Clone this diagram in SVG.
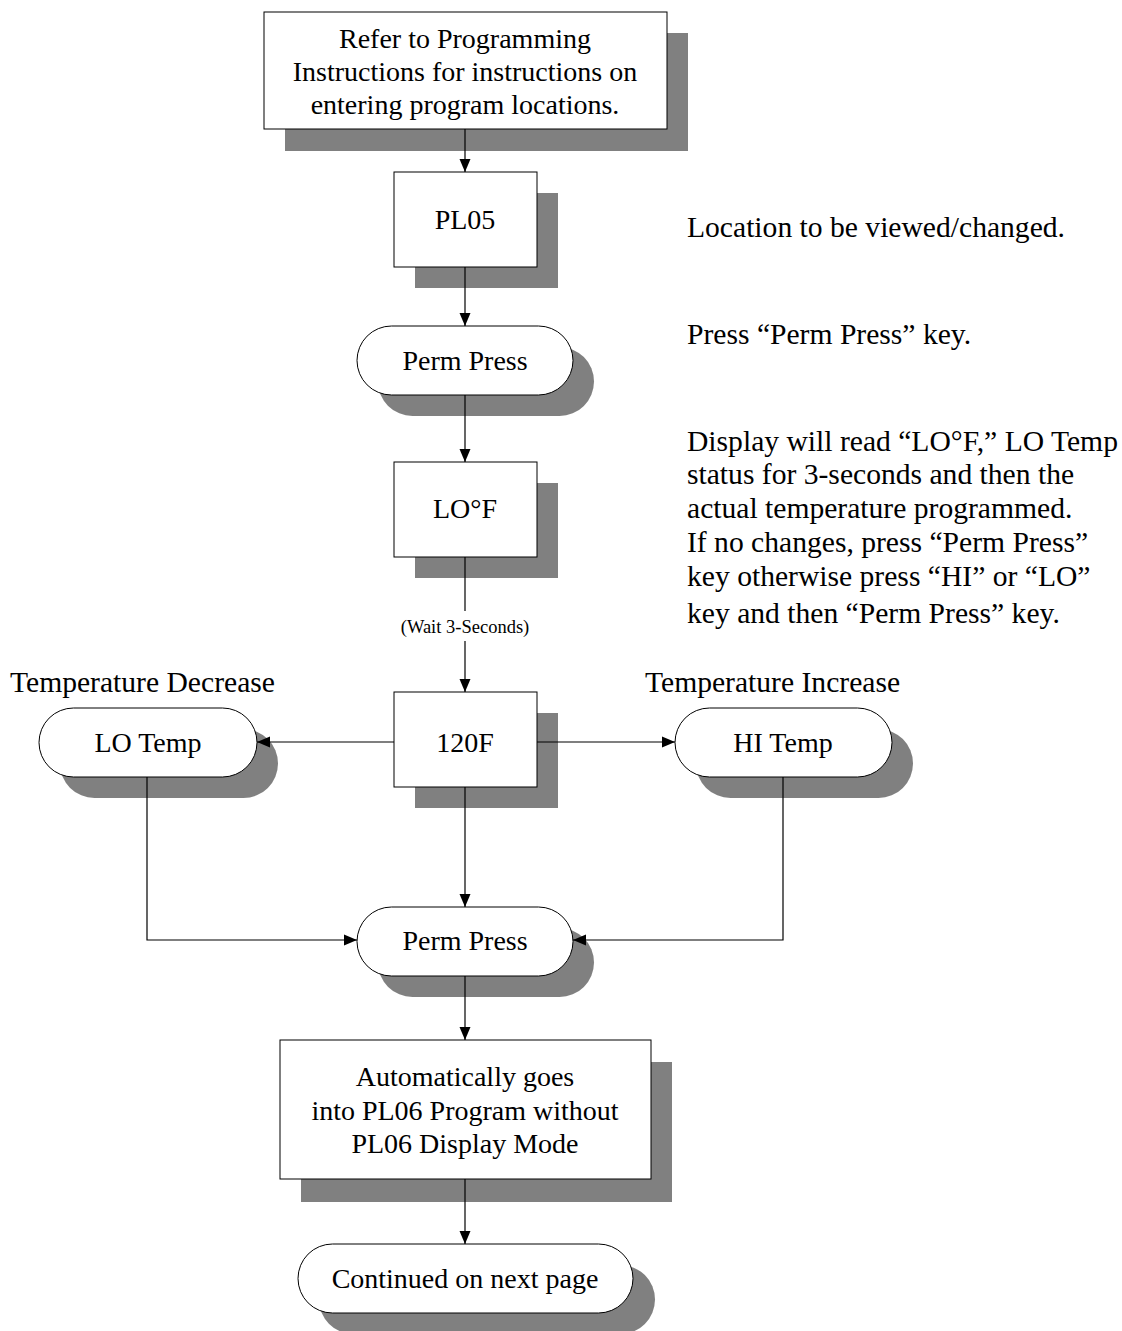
<svg xmlns="http://www.w3.org/2000/svg" width="1122" height="1331" viewBox="0 0 1122 1331">
<style>
text{font-family:"Liberation Serif","Times New Roman",serif;font-size:28px;fill:#000}
.c{text-anchor:middle}
.n{font-size:29.6px}
.sh{fill:#808080}
.bx{fill:#fff;stroke:#000;stroke-width:1}
.ln{fill:none;stroke:#000;stroke-width:1.2}
.small{font-size:18.5px}
</style>
<defs>
<marker id="ah" viewBox="0 0 13 12" refX="13" refY="6" markerWidth="13" markerHeight="12" markerUnits="userSpaceOnUse" orient="auto">
<path d="M0,0.5 L13,6 L0,11.5 Z" fill="#000"/>
</marker>
</defs>
<rect width="1122" height="1331" fill="#fff"/>
<g id="n-start">
<rect class="sh" x="285" y="33" width="403" height="118"/>
<rect class="bx" x="264" y="12" width="403" height="117"/>
<text class="c" x="465" y="48">Refer to Programming</text>
<text class="c" x="465" y="81">Instructions for instructions on</text>
<text class="c" x="465" y="114">entering program locations.</text>
</g>
<g id="n-pl05">
<rect class="sh" x="415" y="193" width="143" height="95"/>
<rect class="bx" x="394" y="172" width="143" height="95"/>
<text class="c" x="465" y="229">PL05</text>
</g>
<g id="n-perm1">
<rect class="sh" x="378" y="347" width="216" height="69" rx="34.5"/>
<rect class="bx" x="357" y="326" width="216" height="69" rx="34.5"/>
<text class="c" x="465" y="370">Perm Press</text>
</g>
<g id="n-lof">
<rect class="sh" x="415" y="483" width="143" height="95"/>
<rect class="bx" x="394" y="462" width="143" height="95"/>
<text class="c" x="465" y="518">LO°F</text>
</g>
<g id="n-120f">
<rect class="sh" x="415" y="713" width="143" height="95"/>
<rect class="bx" x="394" y="692" width="143" height="95"/>
<text class="c" x="465" y="752">120F</text>
</g>
<g id="n-lotemp">
<rect class="sh" x="60" y="729" width="218" height="69" rx="34.5"/>
<rect class="bx" x="39" y="708" width="218" height="69" rx="34.5"/>
<text class="c" x="148" y="752">LO Temp</text>
</g>
<g id="n-hitemp">
<rect class="sh" x="696" y="729" width="217" height="69" rx="34.5"/>
<rect class="bx" x="675" y="708" width="217" height="69" rx="34.5"/>
<text class="c" x="783" y="752">HI Temp</text>
</g>
<g id="n-perm2">
<rect class="sh" x="378" y="928" width="216" height="69" rx="34.5"/>
<rect class="bx" x="357" y="907" width="216" height="69" rx="34.5"/>
<text class="c" x="465" y="950">Perm Press</text>
</g>
<g id="n-auto">
<rect class="sh" x="301" y="1062" width="371" height="140"/>
<rect class="bx" x="280" y="1040" width="371" height="139"/>
<text class="c" x="465" y="1086">Automatically goes</text>
<text class="c" x="465" y="1120">into PL06 Program without</text>
<text class="c" x="465" y="1153">PL06 Display Mode</text>
</g>
<g id="n-cont">
<rect class="sh" x="319" y="1265" width="336" height="69" rx="34.5"/>
<rect class="bx" x="298" y="1244" width="335" height="69" rx="34.5"/>
<text class="c" x="465" y="1288">Continued on next page</text>
</g>
<g id="connectors">
<line class="ln" x1="465" y1="129" x2="465" y2="172" marker-end="url(#ah)"/>
<line class="ln" x1="465" y1="267" x2="465" y2="326" marker-end="url(#ah)"/>
<line class="ln" x1="465" y1="395" x2="465" y2="462" marker-end="url(#ah)"/>
<line class="ln" x1="465" y1="557" x2="465" y2="611"/>
<line class="ln" x1="465" y1="641" x2="465" y2="692" marker-end="url(#ah)"/>
<line class="ln" x1="394" y1="742" x2="257" y2="742" marker-end="url(#ah)"/>
<line class="ln" x1="537" y1="742" x2="675" y2="742" marker-end="url(#ah)"/>
<line class="ln" x1="465" y1="787" x2="465" y2="907" marker-end="url(#ah)"/>
<polyline class="ln" points="147,777 147,940 357,940" marker-end="url(#ah)"/>
<polyline class="ln" points="783,777 783,940 573,940" marker-end="url(#ah)"/>
<line class="ln" x1="465" y1="976" x2="465" y2="1040" marker-end="url(#ah)"/>
<line class="ln" x1="465" y1="1179" x2="465" y2="1244" marker-end="url(#ah)"/>
<text class="c small" x="465" y="633">(Wait 3-Seconds)</text>
</g>
<g id="notes">
<text class="n" x="687" y="237">Location to be viewed/changed.</text>
<text class="n" x="687" y="344">Press “Perm Press” key.</text>
<text class="n" x="687" y="451">Display will read “LO°F,” LO Temp</text>
<text class="n" x="687" y="484">status for 3-seconds and then the</text>
<text class="n" x="687" y="518">actual temperature programmed.</text>
<text class="n" x="687" y="552">If no changes, press “Perm Press”</text>
<text class="n" x="687" y="586">key otherwise press “HI” or “LO”</text>
<text class="n" x="687" y="623">key and then “Perm Press” key.</text>
<text class="n" x="10" y="692">Temperature Decrease</text>
<text class="n" x="645" y="692">Temperature Increase</text>
</g>
</svg>
